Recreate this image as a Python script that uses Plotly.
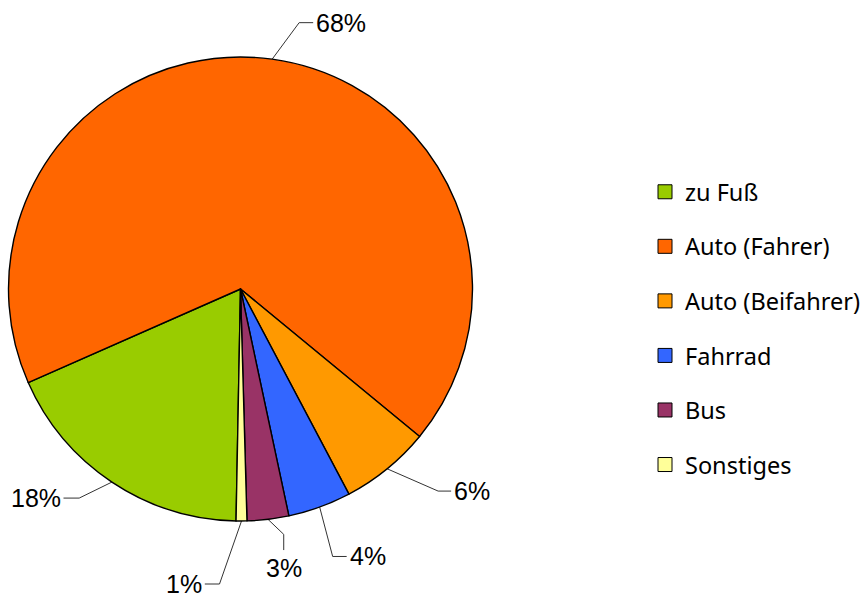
import math
import plotly.graph_objects as go

# Modal split: share of trips per mode of transport (percent)
categories = ["zu Fuß", "Auto (Fahrer)", "Auto (Beifahrer)", "Fahrrad", "Bus", "Sonstiges"]
shares = [18.1, 67.6, 6.3, 4.4, 2.9, 0.75]
colors = ["#99cc00", "#ff6600", "#ff9900", "#3366ff", "#993366", "#ffff99"]

W, H = 866, 597
CX, CY, R = 240.5, 289.0, 232.0      # pie centre and radius in px
START = 181.1                         # first slice start, deg clockwise from 12 o'clock

# leader line geometry per slice: (elbow dx, dy), (tail dx, dy), label side
leaders = [
    ((-32.7, 16.0), (-15.7, 0.0), "left"),
    ((27.0, -36.5), (14.0, 0.0), "right"),
    ((51.0, 22.3), (13.0, 0.0), "right"),
    ((13.0, 49.4), (14.0, 0.0), "right"),
    ((15.7, 15.0), (0.0, 15.7), "below"),
    ((-22.0, 63.0), (-14.7, 0.0), "left"),
]

fig = go.Figure()

fig.add_trace(go.Pie(
    labels=categories,
    values=shares,
    sort=False,
    direction="clockwise",
    rotation=START,
    marker=dict(colors=colors, line=dict(color="#000000", width=1.4)),
    textinfo="none",
    showlegend=False,
    domain=dict(x=[(CX - R) / W, (CX + R) / W], y=[(H - CY - R) / H, (H - CY + R) / H]),
))

total = sum(shares)
lx, ly = [], []
annotations = []
cum = 0.0
for v, (elbow, tail, side) in zip(shares, leaders):
    mid = math.radians(START + (cum + v / 2) / total * 360)
    cum += v
    ex, ey = CX + R * math.sin(mid), CY - R * math.cos(mid)
    bx, by = ex + elbow[0], ey + elbow[1]
    tx, ty = bx + tail[0], by + tail[1]
    lx += [ex, bx, tx, None]
    ly += [ey, by, ty, None]
    text = f"{round(v / total * 100)}%"
    if side == "right":
        a = dict(x=tx + 2, y=ty, xanchor="left", yanchor="middle")
    elif side == "left":
        a = dict(x=tx - 2, y=ty, xanchor="right", yanchor="middle")
    else:
        a = dict(x=tx, y=ty + 3, xanchor="center", yanchor="top")
    annotations.append(dict(text=text, showarrow=False, xref="x", yref="y", borderpad=0,
                            font=dict(family="Liberation Sans, Arial", size=25, color="#000000"), **a))

fig.add_trace(go.Scatter(x=lx, y=ly, mode="lines", line=dict(color="#333333", width=1),
                         hoverinfo="skip", showlegend=False))

# legend entries
for name, c in zip(categories, colors):
    fig.add_trace(go.Scatter(x=[None], y=[None], mode="markers", name=name, legendgroup=name,
                             marker=dict(symbol="square", size=14, color=c,
                                         line=dict(color="#000000", width=1))))

fig.update_layout(
    width=W, height=H,
    margin=dict(l=0, r=0, t=0, b=0),
    paper_bgcolor="white", plot_bgcolor="white",
    xaxis=dict(range=[0, W], visible=False, fixedrange=True, domain=[0, 1]),
    yaxis=dict(range=[H, 0], visible=False, fixedrange=True, domain=[0, 1]),
    annotations=annotations,
    legend=dict(x=645 / W, y=1 - 170 / H, xanchor="left", yanchor="top",
                font=dict(family="Noto Sans", size=23.5, color="#000000"),
                tracegroupgap=21, itemwidth=30, bgcolor="rgba(0,0,0,0)"),
)

fig.write_html("out.html")
